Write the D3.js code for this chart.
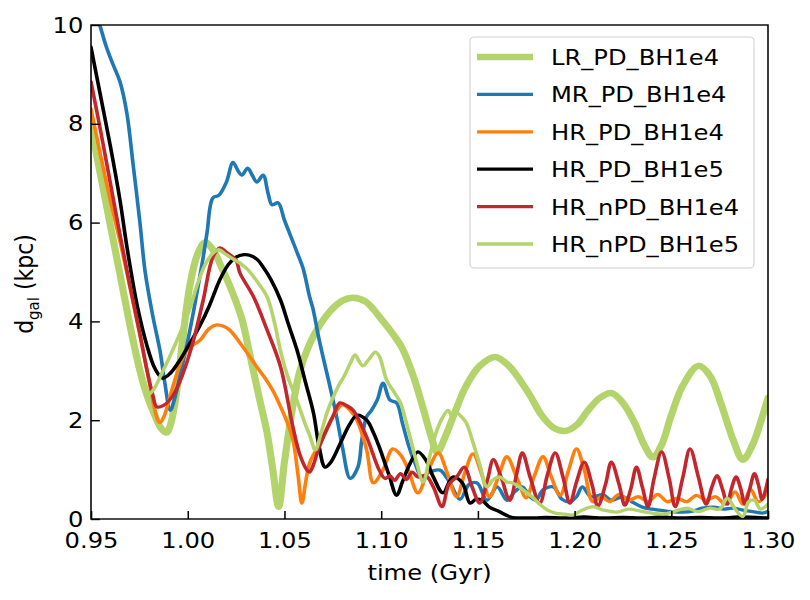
<!DOCTYPE html>
<html>
<head>
<meta charset="utf-8">
<script src="https://cdn.jsdelivr.net/npm/d3@7"></script>
<style>
    body { margin: 0; background: #fff; }
    text { font-family: "DejaVu Sans", sans-serif; }
</style>
</head>
<body>
<div id="chart"></div>
<script>

// Series data, [time (Gyr), d_gal (kpc)]

let lrPdBh1e4 = [
    [0.950, 7.95], [0.955, 6.95], [0.960, 5.95], [0.965, 4.95], [0.970, 3.95], [0.975, 3.05],
    [0.979, 2.5], [0.983, 2.1], [0.986, 1.85], [0.989, 1.75], [0.991, 1.9], [0.994, 2.5],
    [0.997, 3.5], [1.001, 4.7], [1.005, 5.35], [1.009, 5.6], [1.013, 5.45], [1.018, 5.05],
    [1.023, 4.6], [1.028, 4.05], [1.032, 3.35], [1.037, 2.45], [1.041, 1.75], [1.044, 1.0],
    [1.047, 0.25], [1.050, 1.15], [1.054, 2.2], [1.058, 3.0], [1.065, 3.7], [1.0735, 4.2],
    [1.080, 4.42], [1.0855, 4.48], [1.092, 4.4], [1.100, 4.05], [1.106, 3.75], [1.111, 3.45],
    [1.117, 2.85], [1.122, 2.2], [1.126, 1.65], [1.129, 1.35], [1.133, 1.65], [1.138, 2.15],
    [1.144, 2.7], [1.151, 3.1], [1.159, 3.28], [1.166, 3.1], [1.172, 2.8], [1.177, 2.5],
    [1.183, 2.1], [1.189, 1.85], [1.195, 1.78], [1.201, 1.9], [1.207, 2.2], [1.213, 2.45],
    [1.219, 2.55], [1.225, 2.35], [1.231, 1.95], [1.236, 1.5], [1.2405, 1.25], [1.245, 1.5],
    [1.250, 2.1], [1.256, 2.7], [1.264, 3.1], [1.270, 2.9], [1.276, 2.3], [1.282, 1.6],
    [1.287, 1.2], [1.292, 1.5], [1.2965, 2.0], [1.300, 2.45]
];

let mrPdBh1e4 = [
    [0.950, 10.6], [0.9547, 9.98], [0.958, 9.55], [0.9614, 9.2], [0.965, 8.85], [0.9686, 8.2],
    [0.9717, 7.2], [0.9753, 6.0], [0.978, 5.0], [0.982, 4.1], [0.9857, 3.4], [0.988, 2.8],
    [0.991, 2.2], [0.993, 2.4], [0.996, 2.9], [1.000, 3.6], [1.003, 4.2], [1.006, 4.85],
    [1.008, 5.3], [1.010, 5.8], [1.013, 6.5], [1.016, 6.55], [1.020, 6.82], [1.0234, 7.22],
    [1.026, 7.05], [1.028, 6.96], [1.031, 7.1], [1.0335, 6.95], [1.0357, 6.82], [1.039, 6.96],
    [1.0415, 6.6], [1.0436, 6.36], [1.0467, 6.4], [1.050, 6.05], [1.053, 5.75], [1.0565, 5.4],
    [1.0596, 5.08], [1.063, 4.5], [1.0648, 4.25], [1.068, 3.62], [1.0736, 2.67], [1.077, 2.07],
    [1.080, 1.45], [1.084, 0.82], [1.088, 1.05], [1.090, 1.6], [1.0925, 2.07], [1.095, 2.2],
    [1.098, 2.41], [1.101, 2.75], [1.1045, 2.41], [1.108, 2.35], [1.111, 1.94], [1.1145, 1.45],
    [1.1175, 1.13], [1.121, 0.85], [1.125, 0.95], [1.1304, 0.99], [1.1356, 0.73], [1.1408, 0.4],
    [1.1455, 0.7], [1.1496, 0.73], [1.1547, 0.38], [1.160, 0.65], [1.165, 0.38], [1.169, 0.55],
    [1.173, 0.65], [1.177, 0.45], [1.180, 0.38], [1.1837, 0.59], [1.189, 0.65], [1.1935, 0.4],
    [1.1976, 0.35], [1.201, 0.45], [1.204, 0.65], [1.2085, 0.45], [1.2148, 0.49], [1.219, 0.38],
    [1.225, 0.45], [1.230, 0.34], [1.235, 0.24], [1.240, 0.2], [1.244, 0.18], [1.250, 0.15],
    [1.256, 0.14], [1.261, 0.16], [1.266, 0.22], [1.272, 0.24], [1.277, 0.2], [1.282, 0.22],
    [1.287, 0.18], [1.292, 0.15], [1.297, 0.12], [1.300, 0.15]
];

let hrPdBh1e4 = [
    [0.950, 8.3], [0.955, 7.35], [0.960, 6.45], [0.966, 5.45], [0.972, 4.35], [0.977, 3.4],
    [0.981, 2.6], [0.9845, 2.0], [0.9857, 1.95], [0.988, 2.1], [0.991, 2.5], [0.9945, 2.95],
    [0.9996, 3.42], [1.0064, 3.62], [1.011, 3.85], [1.015, 3.93], [1.0185, 3.9], [1.0218, 3.82],
    [1.0286, 3.48], [1.0357, 3.08], [1.040, 2.85], [1.044, 2.6], [1.0477, 2.3], [1.051, 2.0],
    [1.0544, 1.6], [1.057, 0.9], [1.059, 0.32], [1.061, 0.75], [1.063, 1.13], [1.0684, 1.54],
    [1.075, 2.07], [1.080, 2.31], [1.084, 2.2], [1.0875, 2.0], [1.0925, 1.4], [1.096, 0.73],
    [1.101, 1.0], [1.106, 1.42], [1.110, 1.3], [1.114, 1.0], [1.119, 0.53], [1.124, 0.95],
    [1.1295, 1.34], [1.134, 0.95], [1.139, 0.45], [1.143, 0.9], [1.1475, 1.32], [1.152, 0.9],
    [1.156, 0.45], [1.161, 0.9], [1.165, 1.26], [1.170, 0.85], [1.175, 0.43], [1.179, 0.85],
    [1.1837, 1.26], [1.188, 0.85], [1.1925, 0.48], [1.197, 1.0], [1.201, 1.42], [1.205, 1.0],
    [1.2095, 0.35], [1.214, 0.45], [1.218, 0.35], [1.223, 0.5], [1.228, 0.38], [1.233, 0.45],
    [1.238, 0.35], [1.243, 0.5], [1.248, 0.35], [1.253, 0.42], [1.258, 0.35], [1.263, 0.48],
    [1.268, 0.38], [1.273, 0.45], [1.278, 0.3], [1.283, 0.55], [1.287, 0.3], [1.291, 0.6],
    [1.295, 0.35], [1.300, 0.55]
];

let hrPdBh1e5 = [
    [0.950, 9.55], [0.955, 8.55], [0.960, 7.55], [0.965, 6.45], [0.9686, 5.5], [0.974, 4.3],
    [0.979, 3.5], [0.983, 3.05], [0.987, 2.85], [0.991, 2.95], [0.996, 3.22], [1.001, 3.55],
    [1.006, 3.89], [1.011, 4.3], [1.0167, 4.85], [1.021, 5.15], [1.025, 5.3], [1.029, 5.35],
    [1.032, 5.34], [1.036, 5.25], [1.039, 5.1], [1.043, 4.85], [1.048, 4.43], [1.052, 3.95],
    [1.0565, 3.42], [1.061, 2.75], [1.065, 2.15], [1.068, 1.45], [1.071, 1.05], [1.074, 1.15],
    [1.079, 1.54], [1.0835, 1.9], [1.0875, 2.1], [1.0925, 2.0], [1.096, 1.75], [1.099, 1.46],
    [1.104, 0.9], [1.108, 0.48], [1.111, 0.75], [1.115, 1.13], [1.119, 1.36], [1.123, 1.2],
    [1.127, 0.85], [1.132, 0.53], [1.137, 0.85], [1.142, 0.73], [1.146, 0.32], [1.149, 0.4],
    [1.152, 0.38], [1.156, 0.24], [1.161, 0.15], [1.167, 0.04], [1.175, 0.02], [1.185, 0.03],
    [1.195, 0.02], [1.205, 0.04], [1.215, 0.02], [1.225, 0.03], [1.235, 0.02], [1.245, 0.04],
    [1.255, 0.02], [1.265, 0.03], [1.275, 0.02], [1.285, 0.04], [1.300, 0.02]
];

let hrNpdBh1e4 = [
    [0.950, 8.85], [0.955, 7.85], [0.960, 6.8], [0.965, 5.75], [0.970, 4.75], [0.975, 3.8],
    [0.979, 3.0], [0.982, 2.5], [0.984, 2.27], [0.9875, 2.3], [0.9924, 2.5], [0.9976, 2.95],
    [1.003, 3.62], [1.008, 4.43], [1.013, 5.3], [1.0167, 5.49], [1.020, 5.4], [1.025, 5.24],
    [1.027, 4.98], [1.034, 4.5], [1.041, 3.83], [1.048, 3.08], [1.0544, 1.86], [1.058, 1.3],
    [1.0615, 1.0], [1.063, 0.95], [1.065, 1.1], [1.068, 1.46], [1.075, 2.07], [1.0787, 2.35],
    [1.082, 2.3], [1.0855, 2.2], [1.0925, 1.66], [1.099, 0.99], [1.102, 0.82], [1.1045, 0.88],
    [1.107, 0.78], [1.110, 0.92], [1.113, 0.8], [1.116, 0.95], [1.119, 0.85], [1.123, 0.88],
    [1.127, 0.65], [1.1315, 0.25], [1.135, 0.7], [1.139, 0.85], [1.143, 1.05], [1.147, 0.65],
    [1.151, 0.32], [1.155, 0.8], [1.158, 1.2], [1.162, 0.85], [1.1665, 0.38], [1.170, 0.9],
    [1.173, 1.34], [1.177, 0.85], [1.182, 0.32], [1.186, 0.9], [1.190, 1.34], [1.194, 0.85],
    [1.1976, 0.32], [1.201, 0.75], [1.205, 1.15], [1.209, 0.7], [1.212, 0.26], [1.216, 0.7],
    [1.219, 1.15], [1.223, 0.7], [1.226, 0.28], [1.229, 0.6], [1.232, 1.05], [1.235, 0.65],
    [1.238, 0.25], [1.241, 0.8], [1.245, 1.36], [1.249, 0.8], [1.252, 0.25], [1.256, 0.85],
    [1.2597, 1.42], [1.264, 0.85], [1.268, 0.3], [1.271, 0.65], [1.2736, 0.88], [1.2765, 0.6],
    [1.279, 0.3], [1.281, 0.6], [1.2835, 0.85], [1.286, 0.6], [1.288, 0.3], [1.2905, 0.6],
    [1.293, 0.92], [1.295, 0.7], [1.297, 0.4], [1.300, 0.8]
];

let hrNpdBh1e5 = [
    [0.950, 7.95], [0.955, 6.9], [0.960, 5.85], [0.965, 4.9], [0.970, 3.95], [0.974, 3.1],
    [0.977, 2.65], [0.979, 2.5], [0.982, 2.6], [0.986, 2.9], [0.992, 3.4], [0.997, 3.85],
    [1.001, 4.25], [1.005, 4.75], [1.009, 5.15], [1.013, 5.38], [1.016, 5.45], [1.020, 5.35],
    [1.024, 5.25], [1.027, 5.18], [1.031, 5.05], [1.036, 4.8], [1.041, 4.5], [1.045, 3.95],
    [1.048, 3.4], [1.052, 2.85], [1.0565, 2.4], [1.060, 2.0], [1.063, 1.7], [1.066, 1.4],
    [1.069, 1.75], [1.072, 2.15], [1.075, 2.45], [1.078, 2.7], [1.081, 2.9], [1.084, 3.15],
    [1.0865, 3.32], [1.0885, 3.2], [1.0906, 3.1], [1.094, 3.25], [1.097, 3.38], [1.099, 3.3],
    [1.103, 2.8], [1.107, 2.55], [1.110, 2.35], [1.113, 1.95], [1.115, 1.65], [1.118, 1.2],
    [1.1217, 0.75], [1.125, 1.25], [1.128, 1.7], [1.131, 2.0], [1.1346, 2.2], [1.137, 2.05],
    [1.139, 2.15], [1.142, 2.05], [1.144, 1.95], [1.1475, 1.55], [1.151, 1.1], [1.1547, 0.65],
    [1.158, 0.8], [1.1615, 0.85], [1.165, 0.75], [1.168, 0.73], [1.173, 0.6], [1.178, 0.45],
    [1.182, 0.3], [1.186, 0.18], [1.190, 0.12], [1.195, 0.1], [1.199, 0.08], [1.204, 0.18],
    [1.2095, 0.25], [1.215, 0.18], [1.222, 0.14], [1.228, 0.2], [1.234, 0.16], [1.240, 0.12],
    [1.246, 0.1], [1.252, 0.16], [1.258, 0.22], [1.264, 0.15], [1.270, 0.22], [1.275, 0.2],
    [1.279, 0.42], [1.283, 0.2], [1.287, 0.05], [1.290, 0.35], [1.293, 0.38], [1.296, 0.2],
    [1.300, 0.3]
];

let seriesNames = ["LR_PD_BH1e4", "MR_PD_BH1e4", "HR_PD_BH1e4", "HR_PD_BH1e5", "HR_nPD_BH1e4", "HR_nPD_BH1e5"];
let seriesValues = [lrPdBh1e4, mrPdBh1e4, hrPdBh1e4, hrPdBh1e5, hrNpdBh1e4, hrNpdBh1e5];
let seriesColors = ["#b3d36b", "#1f77b4", "#ff7f0e", "#000000", "#c1272d", "#b3d36b"];
let seriesWidths = [6.5, 3.3, 3.3, 3.3, 3.3, 3.3];

let xTicks = [0.95, 1.00, 1.05, 1.10, 1.15, 1.20, 1.25, 1.30];
let yTicks = [0, 2, 4, 6, 8, 10];


// Figure looks slightly stretched horizontally, so draw in a narrower frame and scale
let sx = 1.1;
let margin = {top: 25, left: 91 / sx, right: 768 / sx, bottom: 519};

let svg = d3.select("#chart").append("svg")
    .attr("width", 810)
    .attr("height", 600);

let root = svg.append("g")
    .attr("transform", "scale(" + sx + ",1)");

let x = d3.scaleLinear()
    .domain([0.95, 1.30])
    .range([margin.left, margin.right]);

let y = d3.scaleLinear()
    .domain([0, 10])
    .range([margin.bottom, margin.top]);

root.append("defs").append("clipPath")
    .attr("id", "plot-clip")
    .append("rect")
    .attr("x", margin.left)
    .attr("y", margin.top)
    .attr("width", margin.right - margin.left)
    .attr("height", margin.bottom - margin.top);

// ---- LINES ----
let line = d3.line()
    .x(d => x(d[0]))
    .y(d => y(d[1]))
    .curve(d3.curveCatmullRom.alpha(0.5));

let lineGroup = root.append("g")
    .attr("clip-path", "url(#plot-clip)");

seriesValues.forEach((vals, i) => {
    lineGroup.append("path")
        .datum(vals)
        .attr("fill", "none")
        .attr("stroke", seriesColors[i])
        .attr("stroke-width", seriesWidths[i])
        .attr("stroke-linejoin", "round")
        .attr("stroke-linecap", "round")
        .attr("d", line);
});

// ---- AXES (ticks pointing inwards) ----
let xAxis = d3.axisBottom(x)
    .tickValues(xTicks)
    .tickFormat(d3.format(".2f"))
    .tickSizeInner(-8)
    .tickSizeOuter(0)
    .tickPadding(13);

let yAxis = d3.axisLeft(y)
    .tickValues(yTicks)
    .tickFormat(d3.format("d"))
    .tickSizeInner(-8)
    .tickSizeOuter(0)
    .tickPadding(7);

let xAxisGroup = root.append("g")
    .attr("class", "x-axis")
    .attr("transform", "translate(0," + margin.bottom + ")")
    .call(xAxis);

let yAxisGroup = root.append("g")
    .attr("class", "y-axis")
    .attr("transform", "translate(" + margin.left + ",0)")
    .call(yAxis);

[xAxisGroup, yAxisGroup].forEach(g => {
    g.select(".domain").remove();
    g.selectAll(".tick line").attr("stroke", "#000").attr("stroke-width", 1.4);
    g.selectAll(".tick text")
        .attr("fill", "#000")
        .style("font-size", "22px")
        .style("font-family", "'DejaVu Sans', sans-serif");
});

// frame
root.append("rect")
    .attr("x", margin.left)
    .attr("y", margin.top)
    .attr("width", margin.right - margin.left)
    .attr("height", margin.bottom - margin.top)
    .attr("fill", "none")
    .attr("stroke", "#000")
    .attr("stroke-width", 1.4);

// ---- AXIS TITLES ----
root.append("text")
    .attr("x", (margin.left + margin.right) / 2)
    .attr("y", 580)
    .attr("text-anchor", "middle")
    .style("font-size", "22px")
    .text("time (Gyr)");

let yTitle = root.append("text")
    .attr("transform", "translate(" + (33 / sx) + ",284) rotate(-90)")
    .attr("text-anchor", "middle")
    .style("font-size", "22px");
yTitle.append("tspan").text("d");
yTitle.append("tspan").attr("dy", 5).style("font-size", "15px").text("gal");
yTitle.append("tspan").attr("dy", -5).text(" (kpc)");

// ---- LEGEND ----
let legend = root.append("g").attr("class", "legend");

legend.append("rect")
    .attr("x", 470 / sx)
    .attr("y", 37)
    .attr("width", (754 - 470) / sx)
    .attr("height", 231)
    .attr("rx", 4)
    .attr("fill", "#fff")
    .attr("fill-opacity", 0.8)
    .attr("stroke", "#d0d0d0")
    .attr("stroke-width", 1);

let rows = legend.selectAll(".legend-row")
    .data(seriesNames)
    .enter()
    .append("g")
    .attr("class", "legend-row")
    .attr("transform", (d, i) => "translate(0," + (57 + i * 37.4) + ")");

rows.append("line")
    .attr("x1", 477 / sx)
    .attr("x2", 533 / sx)
    .attr("stroke", (d, i) => seriesColors[i])
    .attr("stroke-width", (d, i) => seriesWidths[i]);

rows.append("text")
    .attr("x", 551 / sx)
    .attr("dy", "0.36em")
    .style("font-size", "22px")
    .text(d => d);

</script>
</body>
</html>
